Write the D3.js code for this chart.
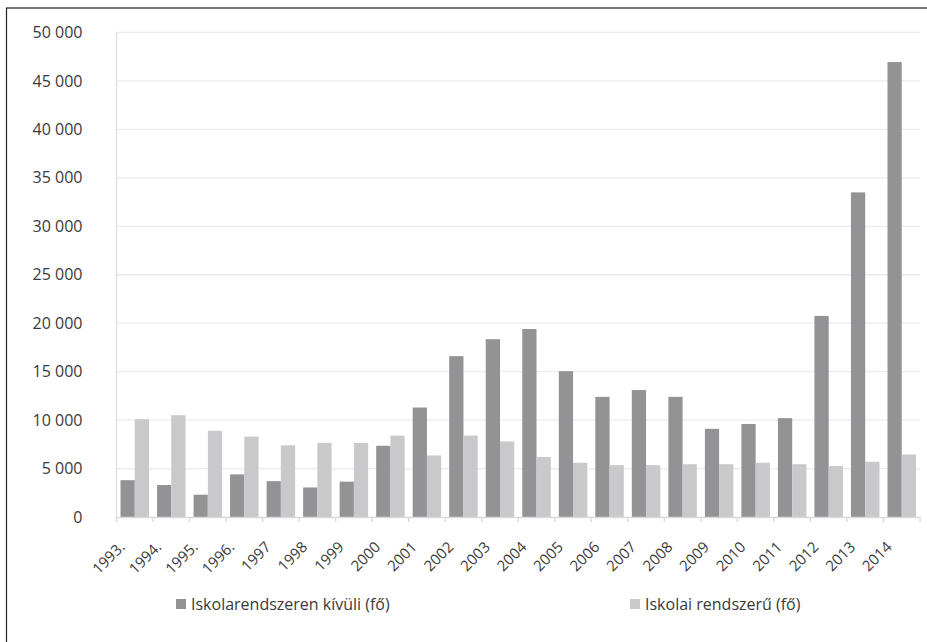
<!DOCTYPE html>
<html>
<head>
<meta charset="utf-8">
<script src="https://cdn.jsdelivr.net/npm/d3@7/dist/d3.min.js"></script>
<style>
  html, body { margin: 0; padding: 0; background: #fff; }
  svg { display: block; }
  text { font-family: "Open Sans", "DejaVu Sans", sans-serif; fill: #3a3a3a; }
</style>
</head>
<body>
<svg id="chart" width="927" height="642"></svg>
<script>
// Évek
const years = ["1993.", "1994.", "1995.", "1996.", "1997", "1998", "1999", "2000", "2001", "2002", "2003",
               "2004", "2005", "2006", "2007", "2008", "2009", "2010", "2011", "2012", "2013", "2014"];

// Iskolarendszeren kívüli képzésben résztvevők (fő)
const outsideSchool = [3800, 3300, 2300, 4400, 3700, 3050, 3650, 7350, 11300, 16600, 18350,
                       19400, 15050, 12400, 13100, 12400, 9100, 9600, 10200, 20750, 33500, 46950];

// Iskolai rendszerű képzésben résztvevők (fő)
const inSchool = [10100, 10500, 8900, 8300, 7400, 7650, 7650, 8400, 6350, 8400, 7800,
                  6200, 5600, 5350, 5350, 5450, 5450, 5600, 5450, 5250, 5700, 6450];

const seriesNames = ["Iskolarendszeren kívüli (fő)", "Iskolai rendszerű (fő)"];
const seriesColors = ["#939396", "#c9c9cb"];
const yTicks = [0, 5000, 10000, 15000, 20000, 25000, 30000, 35000, 40000, 45000, 50000];

const svg = d3.select("#chart");
const W = 927, H = 642;
const plotLeft = 116.5, plotRight = 920, plotTop = 32.5, plotBottom = 517;

// keret
svg.append("rect").attr("x", 6.5).attr("y", 8).attr("width", W + 10).attr("height", H + 10)
  .attr("fill", "none").attr("stroke", "#222").attr("stroke-width", 1.2);

const x = d3.scaleBand().domain(years).range([plotLeft, plotRight]).paddingInner(0.22).paddingOuter(0.11);
const xs = d3.scaleBand().domain([0, 1]).range([0, x.bandwidth()]);
const y = d3.scaleLinear().domain([0, 50000]).range([plotBottom, plotTop]);

const fmt = v => d3.format(",")(v).replace(/,/g, " ");

// rácsvonalak
svg.append("g").selectAll("line").data(yTicks.slice(1)).join("line")
  .attr("x1", plotLeft).attr("x2", plotRight)
  .attr("y1", d => y(d)).attr("y2", d => y(d))
  .attr("stroke", "#ececec").attr("stroke-width", 1.3);

// y tengely feliratai
const yAxis = d3.axisLeft(y).tickValues(yTicks).tickFormat(fmt).tickSize(0).tickPadding(0);
const yg = svg.append("g").attr("transform", `translate(${plotLeft - 34},0)`).call(yAxis);
yg.select(".domain").remove();
yg.selectAll("text").style("font-size", "16px").attr("fill", "#3a3a3a")
  .style("font-family", "'Open Sans', sans-serif");

// függőleges tengelyvonal
svg.append("line").attr("x1", plotLeft).attr("x2", plotLeft).attr("y1", plotTop).attr("y2", plotBottom + 5)
  .attr("stroke", "#dedede").attr("stroke-width", 1.3);

// oszlopok
const groups = svg.append("g").selectAll("g").data(years).join("g")
  .attr("transform", d => `translate(${x(d)},0)`);
groups.each(function(yr, i) {
  const vals = [outsideSchool[i], inSchool[i]];
  d3.select(this).selectAll("rect").data(vals).join("rect")
    .attr("x", (v, k) => xs(k))
    .attr("width", xs.bandwidth())
    .attr("y", v => y(v))
    .attr("height", v => plotBottom - y(v))
    .attr("fill", (v, k) => seriesColors[k]);
});

// x tengely
const xAxis = d3.axisBottom(x).tickSize(0).tickPadding(0);
const xg = svg.append("g").attr("transform", `translate(0,${plotBottom})`).call(xAxis);
xg.select(".domain").attr("stroke", "#d9d9d9").attr("stroke-width", 1.3);
xg.selectAll("text")
  .style("font-size", "15px").style("font-family", "'Open Sans', sans-serif")
  .attr("fill", "#3a3a3a")
  .attr("text-anchor", "end")
  .attr("y", 0)
  .attr("dy", "0")
  .attr("transform", "translate(-9,31) rotate(-45)");

// osztásjelek a kategóriahatárokon
const bounds = years.map(d => x(d) - x.step() * x.paddingInner() / 2).concat([plotRight]);
svg.append("g").selectAll("line").data(bounds).join("line")
  .attr("x1", d => d).attr("x2", d => d).attr("y1", plotBottom).attr("y2", plotBottom + 5)
  .attr("stroke", "#d9d9d9").attr("stroke-width", 1.3);

// jelmagyarázat
const legendX = [176, 630];
const lg = svg.append("g").selectAll("g").data(seriesNames).join("g")
  .attr("transform", (d, i) => `translate(${legendX[i]},604)`);
lg.append("rect").attr("x", 0).attr("y", -5).attr("width", 10).attr("height", 10)
  .attr("fill", (d, i) => seriesColors[i]);
lg.append("text").attr("x", 15).attr("y", 0).attr("dy", "0.35em")
  .style("font-size", "16px").text(d => d);
</script>
</body>
</html>
